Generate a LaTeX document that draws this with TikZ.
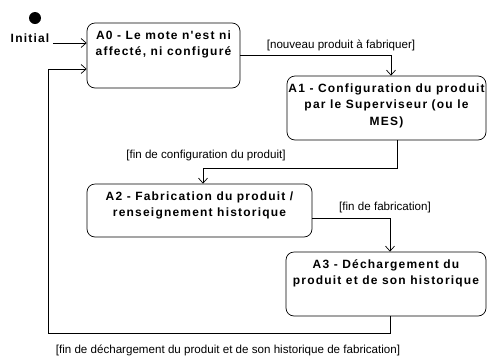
\documentclass[tikz,border=0pt]{standalone}
\usepackage{fontspec}
\setmainfont{Liberation Sans}
\newfontfamily\statefont[LetterSpace=10]{Liberation Sans}
\usetikzlibrary{arrows.meta}

\begin{document}
\begin{tikzpicture}[x=1pt, y=-1pt, line width=0.7pt,
    state/.style={draw, rounded corners=8pt},
    state text/.style={anchor=north, align=center, yshift=-4pt,
      font=\fontsize{12}{16.5}\statefont\bfseries},
    guard/.style={font=\fontsize{11.6}{13}\selectfont},
    trans/.style={-{Straight Barb[length=5pt,width=9pt]}}]
  \useasboundingbox (0,0) rectangle (487,357);

  % initial state
  \node[circle, fill, inner sep=0pt, minimum size=12pt] (init) at (35,18) {};
  \node[font=\fontsize{12}{13}\statefont\bfseries] (initlbl) at (30,38) {Initial};

  % states
  \node[state, minimum width=153pt, minimum height=65pt,
    label={[state text]north:{A0 - Le mote n'est ni\\affecté, ni configuré}}] (a0) at (163.5,55.5) {};
  \node[state, minimum width=199pt, minimum height=64pt,
    label={[state text]north:{A1 - Configuration du produit\\par le Superviseur (ou le\\MES)}}] (a1) at (386.5,108) {};
  \node[state, minimum width=225pt, minimum height=53pt,
    label={[state text]north:{A2 - Fabrication du produit /\\renseignement historique}}] (a2) at (199.5,210.5) {};
  \node[state, minimum width=200pt, minimum height=64pt,
    label={[state text]north:{A3 - Déchargement du\\produit et de son historique}}] (a3) at (386,284) {};

  \coordinate (back) at (48,333);

  % transitions
  \draw[trans] (initlbl.east |- 0,43) -- (a0.west |- 0,43);
  \draw[trans] (a0.east) -| ([xshift=4.5pt]a1.north);
  \draw[trans] ([xshift=11pt]a1.south) -- ++(0,28) -| ([xshift=3.5pt]a2.north);
  \draw[trans] ([yshift=-7.5pt]a2.east) -| ([xshift=4pt]a3.north);
  \draw[trans] ([xshift=4pt]a3.south) |- (back) |- ([yshift=-13.5pt]a0.west);

  % guards
  \node[guard] (g01) at (341,45) {[nouveau produit à fabriquer]};
  \node[guard] (g12) at (206,155) {[fin de configuration du produit]};
  \node[guard] (g23) at (385,207) {[fin de fabrication]};
  \node[guard] (g30) at (228,350) {[fin de déchargement du produit et de son historique de fabrication]};
\end{tikzpicture}
\end{document}
